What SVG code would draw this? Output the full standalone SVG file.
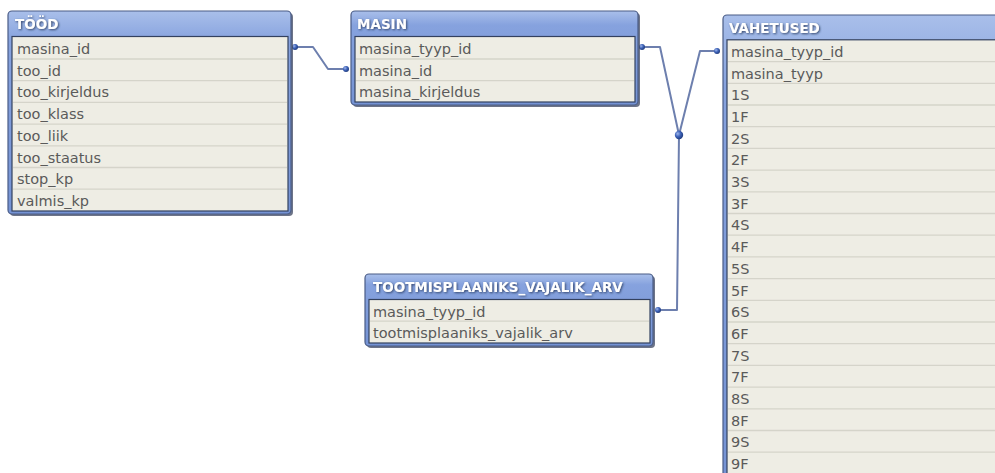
<svg xmlns="http://www.w3.org/2000/svg" width="995" height="473" viewBox="0 0 995 473">
  <defs>
    <linearGradient id="hdr" x1="0" y1="0" x2="0" y2="1">
      <stop offset="0" stop-color="#a9bfea"/>
      <stop offset="0.15" stop-color="#86a2de"/>
      <stop offset="1" stop-color="#7593d4"/>
    </linearGradient>
    <radialGradient id="dot" cx="0.35" cy="0.35" r="0.7">
      <stop offset="0" stop-color="#9fb6ea"/>
      <stop offset="0.5" stop-color="#3d62b8"/>
      <stop offset="1" stop-color="#1f3a7a"/>
    </radialGradient>
    <filter id="ts" x="-10%" y="-30%" width="120%" height="160%">
      <feDropShadow dx="1" dy="1" stdDeviation="0.8" flood-color="#2c3a60" flood-opacity="0.9"/>
    </filter>
  </defs>
  <style>
    .shadow { fill: #3c4660; opacity: 0.75; }
    .frame { fill: url(#hdr); stroke: #4a5c86; stroke-width: 1.2; }
    .body { fill: #eeede4; stroke: #33415f; stroke-width: 1.2; }
    .sep { stroke: #d5d4ca; stroke-width: 1.3; }
    .title { font-family: "DejaVu Sans", Verdana, sans-serif; font-weight: bold; font-size: 13.5px; fill: #ffffff; filter: url(#ts); }
    .field { font-family: "DejaVu Sans", Verdana, sans-serif; font-size: 14.5px; fill: #5a5a5a; }
    .link { fill: none; stroke: #6d7fae; stroke-width: 2; stroke-linejoin: round; }
    .end { fill: url(#dot); }
  </style>

  <rect width="995" height="473" fill="#ffffff"/>

  <!-- connectors -->
  <g id="connectors">
    <polyline class="link" points="295,47 313,47 328,69 346,69"/>
    <polyline class="link" points="642,47 660,47 679,135 700,51 717,51"/>
    <polyline class="link" points="679,135 677,310 658,310"/>
    <circle class="end" cx="295" cy="47" r="3"/>
    <circle class="end" cx="346" cy="69" r="3"/>
    <circle class="end" cx="642" cy="47" r="3"/>
    <circle class="end" cx="717" cy="51" r="3"/>
    <circle class="end" cx="658" cy="310" r="3"/>
    <circle class="end" cx="679" cy="135" r="4.2"/>
  </g>

  <!-- TÖÖD -->
  <g id="tood">
    <rect class="shadow" x="10" y="13" width="283" height="203" rx="4"/>
    <rect class="frame" x="8" y="11" width="283" height="203" rx="4"/>
    <rect class="body" x="12" y="36.5" width="276" height="174.5"/>
    <line class="sep" x1="13" y1="59" x2="287" y2="59"/>
    <line class="sep" x1="13" y1="80.7" x2="287" y2="80.7"/>
    <line class="sep" x1="13" y1="102.4" x2="287" y2="102.4"/>
    <line class="sep" x1="13" y1="124.1" x2="287" y2="124.1"/>
    <line class="sep" x1="13" y1="145.8" x2="287" y2="145.8"/>
    <line class="sep" x1="13" y1="167.5" x2="287" y2="167.5"/>
    <line class="sep" x1="13" y1="189.2" x2="287" y2="189.2"/>
    <text class="title" x="15" y="29">TÖÖD</text>
    <text class="field" x="17" y="54">masina_id</text>
    <text class="field" x="17" y="75.7">too_id</text>
    <text class="field" x="17" y="97.4">too_kirjeldus</text>
    <text class="field" x="17" y="119.1">too_klass</text>
    <text class="field" x="17" y="140.8">too_liik</text>
    <text class="field" x="17" y="162.5">too_staatus</text>
    <text class="field" x="17" y="184.2">stop_kp</text>
    <text class="field" x="17" y="205.9">valmis_kp</text>
  </g>

  <!-- MASIN -->
  <g id="masin">
    <rect class="shadow" x="353" y="13" width="287" height="94" rx="4"/>
    <rect class="frame" x="351" y="11" width="287" height="94" rx="4"/>
    <rect class="body" x="355" y="36.5" width="280" height="65.5"/>
    <line class="sep" x1="356" y1="59" x2="634" y2="59"/>
    <line class="sep" x1="356" y1="80.7" x2="634" y2="80.7"/>
    <text class="title" x="357" y="29">MASIN</text>
    <text class="field" x="359" y="54">masina_tyyp_id</text>
    <text class="field" x="359" y="75.7">masina_id</text>
    <text class="field" x="359" y="97.4">masina_kirjeldus</text>
  </g>

  <!-- VAHETUSED -->
  <g id="vahetused">
    <rect class="shadow" x="725" y="17" width="300" height="480" rx="4"/>
    <rect class="frame" x="723" y="15" width="300" height="480" rx="4"/>
    <rect class="body" x="727" y="39.8" width="290" height="450"/>
    <g class="sep">
      <line x1="728" y1="61.6" x2="995" y2="61.6"/>
      <line x1="728" y1="83.3" x2="995" y2="83.3"/>
      <line x1="728" y1="105" x2="995" y2="105"/>
      <line x1="728" y1="126.7" x2="995" y2="126.7"/>
      <line x1="728" y1="148.4" x2="995" y2="148.4"/>
      <line x1="728" y1="170.1" x2="995" y2="170.1"/>
      <line x1="728" y1="191.8" x2="995" y2="191.8"/>
      <line x1="728" y1="213.5" x2="995" y2="213.5"/>
      <line x1="728" y1="235.2" x2="995" y2="235.2"/>
      <line x1="728" y1="256.9" x2="995" y2="256.9"/>
      <line x1="728" y1="278.6" x2="995" y2="278.6"/>
      <line x1="728" y1="300.3" x2="995" y2="300.3"/>
      <line x1="728" y1="322" x2="995" y2="322"/>
      <line x1="728" y1="343.7" x2="995" y2="343.7"/>
      <line x1="728" y1="365.4" x2="995" y2="365.4"/>
      <line x1="728" y1="387.1" x2="995" y2="387.1"/>
      <line x1="728" y1="408.8" x2="995" y2="408.8"/>
      <line x1="728" y1="430.5" x2="995" y2="430.5"/>
      <line x1="728" y1="452.2" x2="995" y2="452.2"/>
    </g>
    <text class="title" x="729" y="32.5">VAHETUSED</text>
    <text class="field" x="731" y="56.8">masina_tyyp_id</text>
    <text class="field" x="731" y="78.5">masina_tyyp</text>
    <text class="field" x="731" y="100.2">1S</text>
    <text class="field" x="731" y="121.9">1F</text>
    <text class="field" x="731" y="143.6">2S</text>
    <text class="field" x="731" y="165.3">2F</text>
    <text class="field" x="731" y="187">3S</text>
    <text class="field" x="731" y="208.7">3F</text>
    <text class="field" x="731" y="230.4">4S</text>
    <text class="field" x="731" y="252.1">4F</text>
    <text class="field" x="731" y="273.8">5S</text>
    <text class="field" x="731" y="295.5">5F</text>
    <text class="field" x="731" y="317.2">6S</text>
    <text class="field" x="731" y="338.9">6F</text>
    <text class="field" x="731" y="360.6">7S</text>
    <text class="field" x="731" y="382.3">7F</text>
    <text class="field" x="731" y="404">8S</text>
    <text class="field" x="731" y="425.7">8F</text>
    <text class="field" x="731" y="447.4">9S</text>
    <text class="field" x="731" y="469.1">9F</text>
  </g>

  <!-- TOOTMISPLAANIKS_VAJALIK_ARV -->
  <g id="tootmisplaaniks_vajalik_arv">
    <rect class="shadow" x="367" y="276" width="288" height="72" rx="4"/>
    <rect class="frame" x="365" y="274" width="288" height="72" rx="4"/>
    <rect class="body" x="369" y="299.5" width="281" height="43.5"/>
    <line class="sep" x1="370" y1="321.2" x2="649" y2="321.2"/>
    <text class="title" x="373" y="292">TOOTMISPLAANIKS_VAJALIK_ARV</text>
    <text class="field" x="373" y="316.5">masina_tyyp_id</text>
    <text class="field" x="373" y="338.2">tootmisplaaniks_vajalik_arv</text>
  </g>
</svg>
